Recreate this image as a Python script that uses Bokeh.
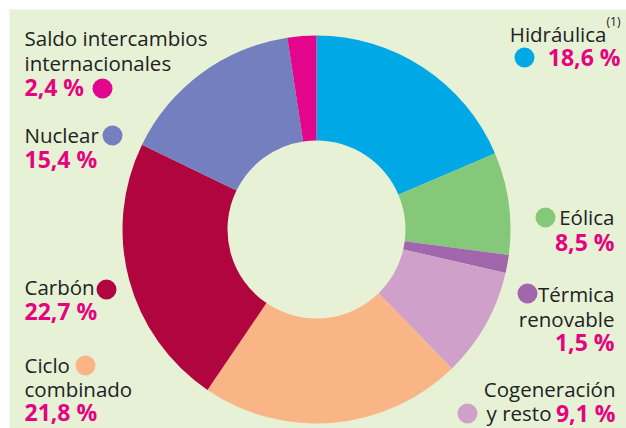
import math
from bokeh.plotting import figure
from bokeh.models import Range1d, ColumnDataSource
from bokeh.core.properties import value
from bokeh.embed import file_html
from bokeh.resources import INLINE

categories = ["Hidráulica", "Eólica", "Térmica renovable", "Cogeneración y resto",
              "Ciclo combinado", "Carbón", "Nuclear", "Saldo intercambios internacionales"]
values = [18.6, 8.5, 1.5, 9.1, 21.8, 22.7, 15.4, 2.4]
colors = ["#00a9e5", "#86c87a", "#a166ac", "#cea0ca", "#f9b586", "#b0053e", "#737fbe", "#e3068c"]
pct_labels = ["18,6 %", "8,5 %", "1,5 %", "9,1 %", "21,8 %", "22,7 %", "15,4 %", "2,4 %"]

BG = "#e6f1d6"
PINK = "#e4047f"
DARK = "#222222"
FONT = "Open Sans"

W, H = 626, 428
M = 9
p = figure(width=W, height=H, x_range=Range1d(M, W), y_range=Range1d(-H, -M),
           output_backend="svg", toolbar_location=None,
           min_border_left=M, min_border_top=M, min_border_right=0, min_border_bottom=0)
p.axis.visible = False
p.grid.visible = False
p.outline_line_color = None
p.background_fill_color = BG
p.border_fill_color = "white"

# wedges
total = sum(values)
starts, ends = [], []
acc = 0.0
for v in values:
    starts.append(math.pi / 2 - 2 * math.pi * acc / total)
    acc += v
    ends.append(math.pi / 2 - 2 * math.pi * acc / total)
src = ColumnDataSource(dict(start=starts, end=ends, color=colors, cat=categories, val=values))
cx, cy = 316, -229
p.annular_wedge(x=cx, y=cy, inner_radius=89, outer_radius=194, start_angle="start",
                end_angle="end", direction="clock", color="color", line_color=None, source=src)

DY = 9  # renderer places alphabetic baseline lower; compensate

def txt(x, y, s, color=DARK, bold=False, align="left", size="20.5px"):
    if bold:
        size = "23px"
    p.text(x=[x], y=[-(y - DY)], text=[s], text_color=color, text_font=value(FONT),
           text_font_size=size, text_font_style="bold" if bold else "normal",
           text_align=align, text_baseline="alphabetic")

def dot(x, y, c):
    p.scatter(x=[x], y=[-y], size=20, color=c, line_color=None)

# Hidráulica
txt(606, 42, "Hidráulica", align="right")
txt(606, 30, "(1)", size="12px")
txt(620, 65, pct_labels[0], PINK, True, "right")
dot(524, 57, colors[0])
# Eólica
txt(614, 225, "Eólica", align="right")
txt(614, 250, pct_labels[1], PINK, True, "right")
dot(545, 217, colors[1])
# Térmica renovable
txt(614, 302, "Térmica", align="right")
txt(614, 327, "renovable", align="right")
txt(614, 350, pct_labels[2], PINK, True, "right")
dot(527, 293, colors[2])
# Cogeneración y resto
txt(615, 397, "Cogeneración", align="right")
txt(551, 421, "y resto", align="right")
txt(615, 421, pct_labels[3], PINK, True, "right")
dot(467, 413, colors[3])
# Ciclo combinado
txt(24, 373, "Ciclo")
txt(24, 397, "combinado")
txt(24, 420, pct_labels[4], PINK, True)
dot(85, 365, colors[4])
# Carbón
txt(24, 295, "Carbón")
txt(24, 319, pct_labels[5], PINK, True)
dot(106, 289, colors[5])
# Nuclear
txt(24, 143, "Nuclear")
txt(24, 167, pct_labels[6], PINK, True)
dot(112, 135, colors[6])
# Saldo
txt(24, 46, "Saldo intercambios")
txt(24, 71, "internacionales")
txt(24, 95, pct_labels[7], PINK, True)
dot(102, 88, colors[7])

open("out.html", "w").write(file_html(p, INLINE))
